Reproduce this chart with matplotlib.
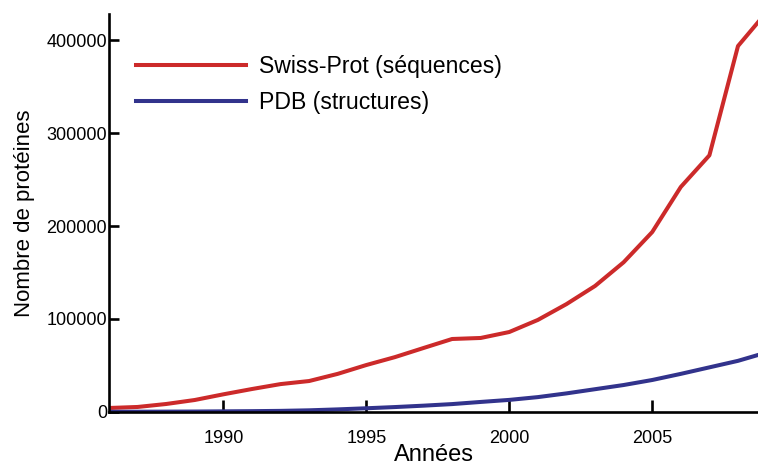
import matplotlib
matplotlib.use("Agg")
from matplotlib import pyplot as plt

# données
annees = [1986, 1987, 1988, 1989, 1990, 1991, 1992, 1993, 1994, 1995, 1996, 1997,
          1998, 1999, 2000, 2001, 2002, 2003, 2004, 2005, 2006, 2007, 2008, 2009]
swissprot = [4300, 5400, 8600, 12900, 19000, 24700, 30000, 33300, 41000, 50500, 59000, 68800,
             78500, 79600, 86000, 99000, 116000, 135500, 161000, 193500, 242000, 276000, 393500, 430000]
pdb = [200, 300, 400, 500, 700, 900, 1200, 1800, 2800, 4000, 5300, 6800,
       8500, 10800, 13000, 16000, 20000, 24500, 29000, 34400, 41000, 48000, 55000, 64000]

plt.rcParams['font.family'] = ['Liberation Sans', 'DejaVu Sans']

fig = plt.figure(figsize=(7.58, 4.66), dpi=100)
ax = fig.add_axes([0.1438, 0.1159, 0.8562, 0.8541])

ax.plot(annees, swissprot, c='#cc2a2a', lw=2.9, label='Swiss-Prot (séquences)')
ax.plot(annees, pdb, c='#32338c', lw=2.9, label='PDB (structures)')

ax.set_xlim(1986, 2008.7)
ax.set_ylim(0, 428000)
ax.set_xticks([1990, 1995, 2000, 2005])
ax.set_yticks([0, 100000, 200000, 300000, 400000])

for s in ['top', 'right']:
    ax.spines[s].set_visible(False)
for s in ['left', 'bottom']:
    ax.spines[s].set_linewidth(1.9)

ax.tick_params(axis='both', direction='in', width=1.9, labelsize=13)
ax.tick_params(axis='x', length=9, pad=13)
ax.tick_params(axis='y', length=7, pad=1.5)

ax.set_xlabel('Années', fontsize=17, labelpad=-2)
ax.set_ylabel('Nombre de protéines', fontsize=16, labelpad=8)

ax.legend(loc='upper left', bbox_to_anchor=(0.009, 0.948), frameon=False, fontsize=16.6,
          handlelength=4.8, handletextpad=0.55, labelspacing=0.55)

fig.savefig('out.png', dpi=100)
